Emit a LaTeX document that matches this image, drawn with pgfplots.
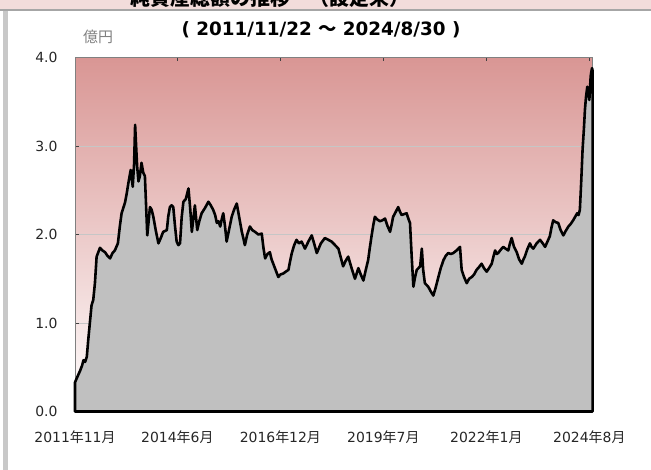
\documentclass[border=0pt]{standalone}
\usepackage{pgfplots}
\pgfplotsset{compat=1.18}
\usepackage{fontspec}
\setmainfont{DejaVu Sans}
\newfontfamily\cjk{Noto Sans CJK JP}
\newcommand{\nen}{{\cjk 年}}
\newcommand{\tsuki}{{\cjk 月}}
\definecolor{bandpink}{RGB}{242,220,219}
\definecolor{bgtop}{RGB}{217,150,148}
\definecolor{areagray}{RGB}{192,192,192}
\definecolor{leftbar}{RGB}{200,200,200}
\begin{document}
\begin{tikzpicture}
\begin{axis}[
  scale only axis, width=517.7bp, height=354bp,
  xmin=0.7, xmax=154, ymin=0, ymax=4,
  axis background/.style={top color=bgtop, bottom color=white},
  axis line style={draw=gray, line width=1pt},
  tick align=inside, major tick length=4bp,
  tick style={draw=darkgray, line width=0.6pt},
  xtick={0.7,31,61.5,92,122.5,153},
  xticklabels={2011\nen 11\tsuki, 2014\nen 6\tsuki, 2016\nen 12\tsuki, 2019\nen 7\tsuki, 2022\nen 1\tsuki, 2024\nen 8\tsuki},
  ytick={0,1,2,3,4},
  ymajorgrids, grid style={draw=gray!45, line width=0.6pt},
  /pgf/number format/fixed, /pgf/number format/fixed zerofill, /pgf/number format/precision=1, /pgf/number format/assume math mode=true,
  ticklabel style={font=\fontsize{14}{16}\selectfont, text=black!85},
  yticklabel style={xshift=-14bp},
  xticklabel style={yshift=-16bp},
  clip=false,
]
\addplot[draw=black, line width=2.6pt, fill=areagray, line join=round] coordinates {
(0.7,0.33) (1.5,0.40) (2.2,0.46) (2.8,0.52) (3.2,0.58) (3.7,0.56) (4.2,0.62) (4.6,0.80) (5.1,1.00) (5.6,1.20) (6.1,1.26) (6.6,1.45) (7.1,1.75) (7.6,1.80) (8.1,1.85) (8.8,1.82) (9.6,1.80) (10.3,1.76) (11.1,1.73) (11.8,1.79) (12.5,1.82) (13.4,1.90) (14.0,2.10) (14.5,2.24) (15.0,2.30) (15.5,2.36) (16.0,2.46) (16.5,2.58) (17.2,2.73) (17.8,2.54) (18.2,2.80) (18.5,3.24) (18.8,3.00) (19.1,2.77) (19.5,2.60) (19.9,2.66) (20.4,2.81) (20.9,2.70) (21.4,2.66) (22.1,1.99) (22.5,2.15) (22.9,2.31) (23.4,2.28) (23.9,2.20) (24.6,2.05) (25.4,1.90) (26.1,1.96) (26.8,2.03) (27.9,2.05) (28.3,2.20) (28.8,2.31) (29.3,2.33) (29.8,2.31) (30.3,2.10) (30.8,1.92) (31.3,1.88) (31.8,1.90) (32.3,2.20) (32.8,2.37) (33.5,2.40) (34.3,2.52) (34.8,2.30) (35.3,2.03) (35.8,2.20) (36.2,2.33) (36.9,2.05) (37.5,2.15) (38.2,2.24) (39.2,2.30) (40.2,2.37) (40.9,2.33) (41.6,2.28) (42.2,2.22) (42.7,2.13) (43.2,2.15) (43.7,2.09) (44.2,2.18) (44.6,2.24) (45.1,2.10) (45.6,1.92) (46.3,2.05) (47.1,2.20) (47.8,2.28) (48.6,2.35) (49.3,2.20) (50.1,2.03) (50.6,1.95) (51.0,1.88) (51.7,2.00) (52.5,2.09) (53.2,2.05) (54.0,2.03) (55.0,2.00) (56.0,2.01) (56.5,1.85) (57.0,1.73) (57.7,1.78) (58.4,1.80) (58.9,1.72) (59.4,1.67) (60.1,1.60) (60.9,1.52) (61.6,1.55) (62.4,1.56) (63.1,1.58) (63.9,1.60) (64.4,1.70) (64.9,1.79) (65.6,1.88) (66.3,1.94) (67.0,1.90) (67.8,1.92) (68.3,1.88) (68.8,1.84) (69.8,1.92) (70.8,1.99) (71.5,1.90) (72.3,1.79) (73.5,1.90) (74.7,1.96) (75.7,1.94) (76.7,1.92) (77.7,1.88) (78.7,1.84) (79.4,1.74) (80.1,1.64) (80.8,1.70) (81.6,1.75) (82.6,1.62) (83.6,1.50) (84.1,1.56) (84.6,1.62) (85.3,1.55) (86.1,1.48) (86.8,1.60) (87.5,1.71) (88.0,1.85) (88.5,1.98) (89.0,2.10) (89.5,2.20) (90.2,2.17) (91.0,2.15) (91.7,2.16) (92.5,2.18) (93.2,2.10) (94.0,2.03) (94.5,2.12) (94.9,2.20) (95.6,2.25) (96.4,2.31) (96.9,2.26) (97.4,2.22) (98.1,2.23) (98.9,2.24) (99.4,2.18) (99.9,2.13) (100.4,1.75) (100.9,1.41) (101.4,1.52) (101.9,1.60) (102.4,1.62) (102.9,1.64) (103.4,1.84) (103.8,1.60) (104.3,1.45) (104.8,1.43) (105.3,1.41) (106.0,1.36) (106.8,1.31) (107.5,1.40) (108.3,1.52) (109.0,1.62) (109.8,1.71) (110.5,1.76) (111.2,1.79) (112.0,1.78) (112.7,1.79) (113.7,1.82) (114.7,1.86) (115.2,1.60) (115.9,1.52) (116.7,1.45) (117.4,1.50) (118.2,1.52) (118.9,1.55) (119.6,1.60) (120.3,1.63) (121.1,1.67) (121.8,1.62) (122.6,1.58) (123.3,1.62) (124.1,1.67) (124.6,1.75) (125.1,1.82) (125.6,1.78) (126.0,1.79) (126.8,1.83) (127.5,1.86) (128.2,1.84) (129.0,1.82) (129.5,1.90) (130.0,1.96) (130.7,1.86) (131.5,1.80) (132.2,1.72) (133.0,1.67) (133.5,1.72) (133.9,1.75) (134.6,1.83) (135.4,1.90) (135.9,1.86) (136.4,1.84) (137.4,1.90) (138.4,1.94) (139.2,1.90) (139.9,1.86) (140.6,1.92) (141.3,1.98) (141.8,2.08) (142.3,2.16) (143.0,2.14) (143.8,2.13) (144.5,2.05) (145.3,1.99) (146.0,2.04) (146.8,2.09) (147.5,2.12) (148.2,2.16) (148.8,2.20) (149.4,2.24) (149.8,2.22) (150.2,2.28) (150.6,2.60) (151.0,2.96) (151.4,3.20) (151.7,3.41) (152.0,3.55) (152.4,3.67) (152.7,3.60) (153.0,3.52) (153.2,3.65) (153.4,3.79) (153.6,3.84) (153.8,3.88) (153.97,3.85)
} \closedcycle;
\coordinate (O) at (rel axis cs:0,0);
\end{axis}
\begin{scope}[shift={(O)}, x=1bp, y=1bp, xshift=-75bp, yshift=411.5bp]
\fill[bandpink] (0,2) rectangle (651,-9.5);
\fill[gray!70] (0,-9.5) rectangle (651,-11.5);
\fill[leftbar] (3.3,-11.5) rectangle (8.3,-472);
\node[anchor=base, font=\cjk\bfseries\fontsize{20}{24}\selectfont, inner sep=0pt] at (270,-6) {純資産総額の推移　（設定来）};
\node[font=\bfseries\fontsize{18.4}{22}\selectfont, inner sep=0pt] at (321,-30) {( 2011/11/22 {\cjk\bfseries ～} 2024/8/30 )};
\node[font=\cjk\fontsize{15}{18}\selectfont, text=gray, inner sep=0pt] at (98,-37) {億円};
\pgfresetboundingbox
\path[use as bounding box] (0,0) rectangle (651,-470);
\end{scope}
\end{tikzpicture}
\end{document}
